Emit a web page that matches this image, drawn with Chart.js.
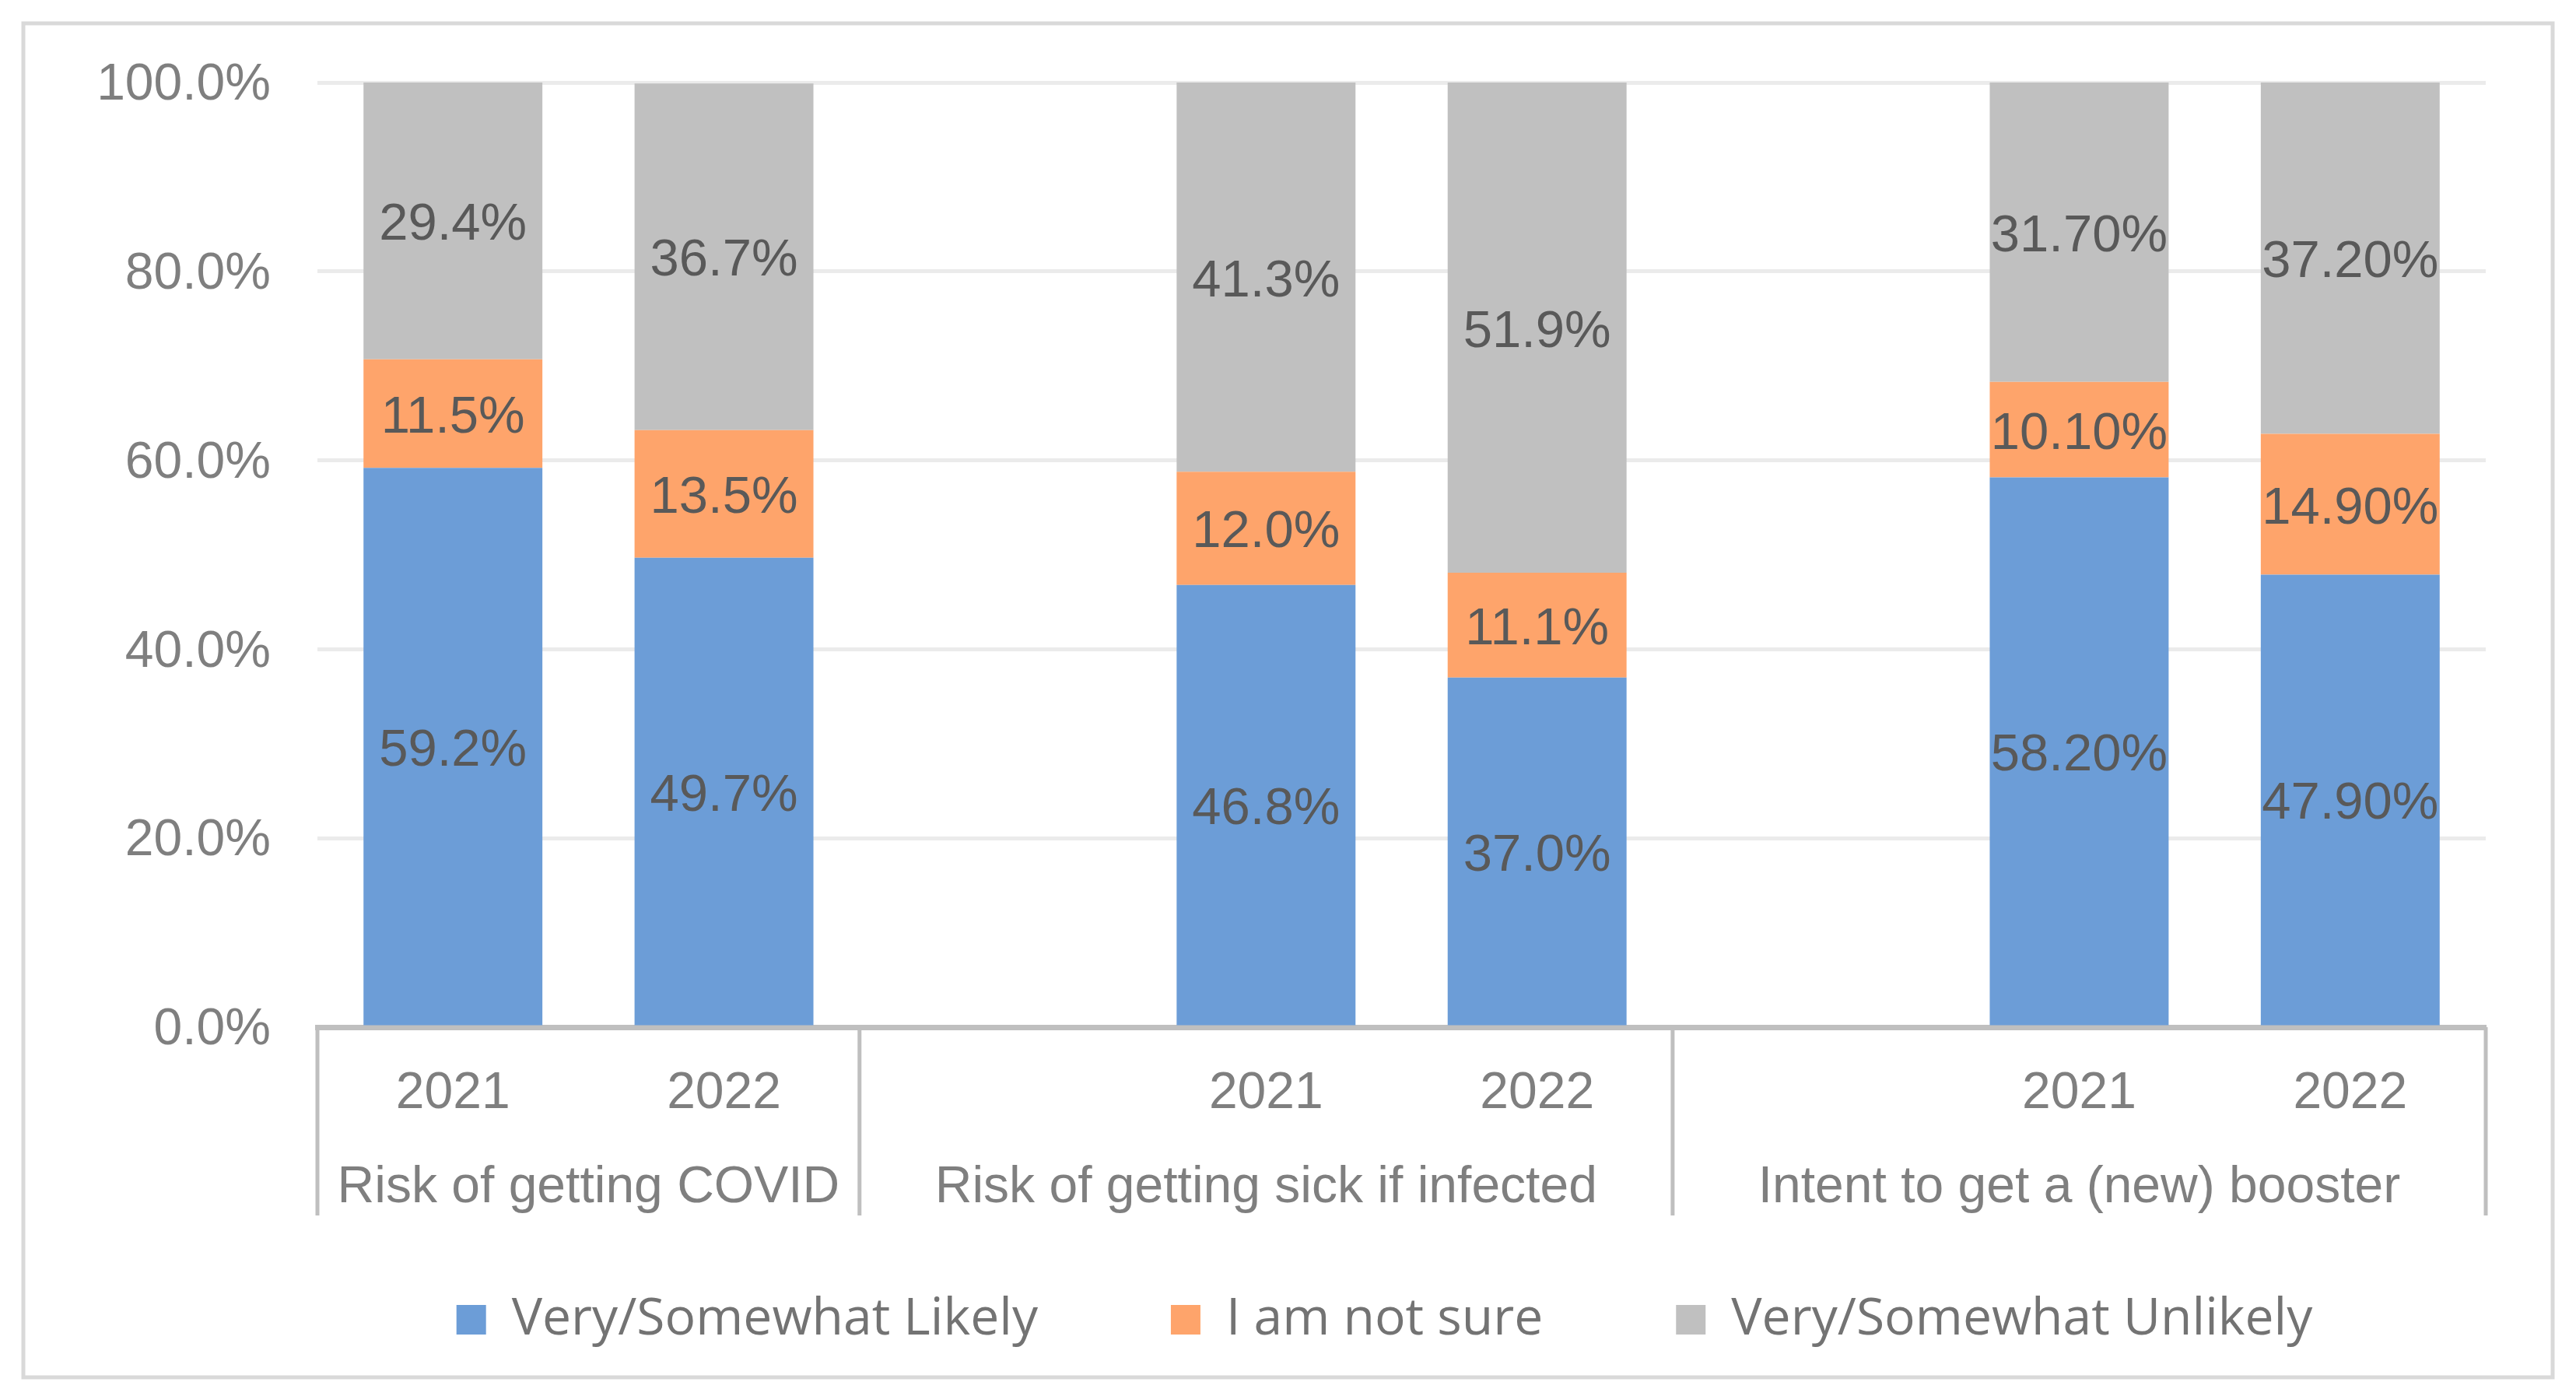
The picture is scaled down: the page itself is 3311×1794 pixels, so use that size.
<!DOCTYPE html>
<html>
<head>
<meta charset="utf-8">
<script src="https://cdn.jsdelivr.net/npm/chart.js@4.4.1/dist/chart.umd.min.js"></script>
<style>
    html, body { margin: 0; padding: 0; background: #fff; }
    canvas { display: block; }
</style>
</head>
<body>
<canvas id="chart" width="3311" height="1794" style="width:3311px;height:1794px"></canvas>
<script>
// Data
const categories = ['2021', '2022', '', '2021', '2022', '', '2021', '2022'];
const likely = [59.2, 49.7, null, 46.8, 37.0, null, 58.2, 47.9];
const notSure = [11.5, 13.5, null, 12.0, 11.1, null, 10.1, 14.9];
const unlikely = [29.4, 36.7, null, 41.3, 51.9, null, 31.7, 37.2];
const labelDecimals = [1, 1, null, 1, 1, null, 2, 2];
const groupLabels = ['Risk of getting COVID', 'Risk of getting sick if infected', 'Intent to get a (new) booster'];
const groupFirst = [0, 2, 5];
const groupLast = [1, 4, 7];
const seriesNames = ['Very/Somewhat Likely', 'I am not sure', 'Very/Somewhat Unlikely'];

const fontFamily = '"Liberation Sans", Arial, sans-serif';
const axisGray = '#bfbfbf';

// White background + outer frame
const framePlugin = {
    id: 'frame',
    beforeDraw(chart) {
        const ctx = chart.ctx;
        ctx.save();
        ctx.fillStyle = '#fff';
        ctx.fillRect(0, 0, chart.width, chart.height);
        ctx.strokeStyle = '#d9d9d9';
        ctx.lineWidth = 5;
        ctx.strokeRect(30, 30, 3251, 1740);
        ctx.restore();
    }
};

// Legend sits a little left of the plot centre, like the original
const legendShiftPlugin = {
    id: 'legendShift',
    afterLayout(chart) {
        const lg = chart.legend;
        const area = chart.chartArea;
        const shift = (area.left + area.right) / 2 - 22 - (lg.left + lg.right) / 2;
        lg.left += shift;
        lg.right += shift;
    }
};

// Group labels and separators under the year ticks
const groupAxisPlugin = {
    id: 'groupAxis',
    afterDraw(chart) {
        const ctx = chart.ctx;
        const x = chart.scales.x;
        const half = (x.getPixelForTick(1) - x.getPixelForTick(0)) / 2;
        const top = chart.chartArea.bottom;
        ctx.save();
        ctx.strokeStyle = axisGray;
        ctx.lineWidth = 5;
        const edges = [x.getPixelForTick(0) - half];
        groupLast.forEach(i => edges.push(x.getPixelForTick(i) + half));
        edges.forEach(px => {
            ctx.beginPath();
            ctx.moveTo(px, top);
            ctx.lineTo(px, top + 242);
            ctx.stroke();
        });
        ctx.fillStyle = '#7f7f7f';
        ctx.font = '66px ' + fontFamily;
        ctx.textAlign = 'center';
        ctx.textBaseline = 'middle';
        groupLabels.forEach((g, k) => {
            const left = x.getPixelForTick(groupFirst[k]) - half;
            const right = x.getPixelForTick(groupLast[k]) + half;
            ctx.fillText(g, (left + right) / 2, top + 207);
        });
        ctx.restore();
    }
};

// Value labels centred in each segment
const valueLabelPlugin = {
    id: 'valueLabels',
    afterDatasetsDraw(chart) {
        const ctx = chart.ctx;
        ctx.save();
        ctx.fillStyle = '#595959';
        ctx.font = '67px ' + fontFamily;
        ctx.textAlign = 'center';
        ctx.textBaseline = 'middle';
        chart.data.datasets.forEach((ds, di) => {
            const meta = chart.getDatasetMeta(di);
            meta.data.forEach((bar, i) => {
                const v = ds.data[i];
                if (v === null) return;
                const p = bar.getProps(['x', 'y', 'base'], true);
                const top = Math.max(p.y, chart.chartArea.top);
                ctx.fillText(v.toFixed(labelDecimals[i]) + '%', p.x, (top + p.base) / 2 + 6);
            });
        });
        ctx.restore();
    }
};

new Chart(document.getElementById('chart'), {
    type: 'bar',
    data: {
        labels: categories,
        datasets: [
            { label: seriesNames[0], data: likely, backgroundColor: '#6c9dd7' },
            { label: seriesNames[1], data: notSure, backgroundColor: '#fea46b' },
            { label: seriesNames[2], data: unlikely, backgroundColor: '#c0c0c0' }
        ]
    },
    options: {
        responsive: false,
        devicePixelRatio: 1,
        animation: false,
        datasets: {
            bar: { barPercentage: 0.66, categoryPercentage: 1, borderWidth: 0 }
        },
        layout: {
            padding: { top: 106, left: 100, right: 116, bottom: 55 }
        },
        plugins: {
            tooltip: { enabled: false },
            legend: {
                position: 'bottom',
                labels: {
                    color: '#737373',
                    font: { family: '"Open Sans", sans-serif', size: 66 },
                    boxWidth: 38,
                    boxHeight: 38,
                    padding: 171
                }
            }
        },
        scales: {
            x: {
                stacked: true,
                grid: { display: false, drawTicks: false },
                border: { display: true, color: axisGray, width: 7 },
                ticks: {
                    color: '#7f7f7f',
                    font: { family: fontFamily, size: 66 },
                    padding: 46,
                    maxRotation: 0,
                    autoSkip: false
                },
                afterFit(scale) { scale.height = 172; }
            },
            y: {
                stacked: true,
                min: 0,
                max: 100,
                grid: { color: '#ebebeb', lineWidth: 5, drawTicks: false },
                border: { display: false },
                ticks: {
                    stepSize: 20,
                    color: '#7f7f7f',
                    font: { family: fontFamily, size: 66 },
                    padding: 60,
                    labelOffset: 4,
                    callback: v => v.toFixed(1) + '%'
                },
                afterFit(scale) { scale.width = 308; }
            }
        }
    },
    plugins: [framePlugin, legendShiftPlugin, groupAxisPlugin, valueLabelPlugin]
});
</script>
</body>
</html>
